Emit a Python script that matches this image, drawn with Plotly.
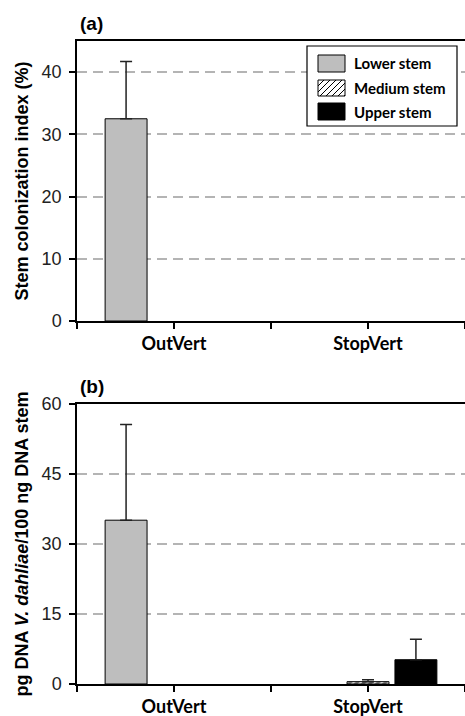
import plotly.graph_objects as go

# ---- data ----
categories = [0, 1]
category_labels = ["OutVert", "StopVert"]
series_names = ["Lower stem", "Medium stem", "Upper stem"]

# panel (a): stem colonization index (%)
a_lower = [32.5, 0]
a_medium = [0, 0]
a_upper = [0, 0]
a_lower_err = [9.2, None]
a_medium_err = [None, None]
a_upper_err = [None, None]

# panel (b): pg DNA V. dahliae / 100 ng DNA stem
b_lower = [35.1, 0]
b_medium = [0, 0.5]
b_upper = [0, 5.2]
b_lower_err = [20.5, None]
b_medium_err = [None, 0.4]
b_upper_err = [None, 4.4]

a_ticks = [0, 10, 20, 30, 40]
b_ticks = [0, 15, 30, 45, 60]

# ---- layout geometry (pixels) ----
W, H = 465, 716
L, R, T, B = 77, 0, 41, 32
PW = W - L - R
PH = H - T - B
a_top, a_bot = 41, 321
b_top, b_bot = 404, 684


def px2x(px):
    return (px - L) / PW


def px2y(py):
    return (H - B - py) / PH


GRAY = "#bebebe"
fig = go.Figure()

styles = [
    dict(color=GRAY, line=dict(color="black", width=1)),
    dict(color="white", line=dict(color="black", width=1),
         pattern=dict(shape="/", fgcolor="black", bgcolor="white", size=5, solidity=0.6)),
    dict(color="black", line=dict(color="black", width=1)),
]


def add_panel(vals, errs, xa, ya):
    for name, v, e, st in zip(series_names, vals, errs, styles):
        shown = [val if val else None for val in v]  # zero-height bars are not drawn
        fig.add_trace(go.Bar(
            x=categories, y=shown, name=name, marker=st, showlegend=False,
            xaxis=xa, yaxis=ya,
            error_y=dict(type="data", symmetric=False, array=e,
                         arrayminus=[0 if x is not None else None for x in e],
                         color="#222", thickness=1.5, width=6),
        ))


add_panel([a_lower, a_medium, a_upper], [a_lower_err, a_medium_err, a_upper_err], "x", "y")
add_panel([b_lower, b_medium, b_upper], [b_lower_err, b_medium_err, b_upper_err], "x2", "y2")

xaxis_common = dict(
    range=[-0.5, 1.5], tickvals=[-0.5, 0, 0.5, 1, 1.5],
    ticktext=["", "<b>" + category_labels[0] + "</b>", "", "<b>" + category_labels[1] + "</b>", ""],
    ticks="outside", ticklen=6, tickwidth=1.5, tickcolor="black",
    showline=True, linecolor="black", linewidth=1.5, mirror=True,
    showgrid=False, zeroline=False,
    tickfont=dict(family="Lato", size=18, color="black"),
)
yaxis_common = dict(
    ticks="outside", ticklen=6, tickwidth=1.5, tickcolor="black",
    showline=True, linecolor="black", linewidth=1.5,
    showgrid=True, gridcolor="#b4b4b4", gridwidth=1.5, griddash="10px,6px",
    zeroline=False,
    tickfont=dict(family="Liberation Sans", size=18, color="#222"),
    ticklabelstandoff=4,
    title_font=dict(family="Liberation Sans", size=18, color="black"),
    title_standoff=8,
)

fig.update_layout(
    width=W, height=H,
    margin=dict(l=L, r=R, t=T, b=B, autoexpand=False),
    paper_bgcolor="white", plot_bgcolor="white",
    barmode="group", bargap=0.259, bargroupgap=0.125,
    xaxis=dict(anchor="y", domain=[0, 1], **xaxis_common),
    yaxis=dict(anchor="x", domain=[px2y(a_bot), 1], range=[0, 45], tickvals=a_ticks,
               title_text="<b>Stem colonization index (%)</b>", **yaxis_common),
    xaxis2=dict(anchor="y2", domain=[0, 1], **xaxis_common),
    yaxis2=dict(anchor="x2", domain=[0, px2y(b_top)], range=[0, 60], tickvals=b_ticks,
                title_text="<b>pg DNA <i>V. dahliae</i>/100 ng DNA stem</b>", **yaxis_common),
    showlegend=False,
)

# panel labels
for lab, py in [("(a)", 24), ("(b)", 386)]:
    fig.add_annotation(text="<b>" + lab + "</b>", xref="paper", yref="paper",
                       x=px2x(78), y=px2y(py), xanchor="left", yanchor="middle",
                       showarrow=False, font=dict(family="Liberation Sans", size=19, color="black"))

# manual legend (panel a)
shapes = []
shapes.append(dict(type="rect", xref="paper", yref="paper",
                   x0=px2x(307), x1=px2x(457), y0=px2y(126), y1=px2y(46),
                   line=dict(color="black", width=1.2), fillcolor="white", layer="above"))
sw_x0, sw_x1 = 318, 345
rows = [(55, 72), (80, 96), (103, 120)]
fills = [GRAY, "white", "black"]
for (y0, y1), f in zip(rows, fills):
    shapes.append(dict(type="rect", xref="paper", yref="paper",
                       x0=px2x(sw_x0), x1=px2x(sw_x1), y0=px2y(y1), y1=px2y(y0),
                       line=dict(color="black", width=1), fillcolor=f, layer="above"))
# hatch lines for medium swatch
y0, y1 = rows[1]
hh = y1 - y0
step = 6
for k in range(-hh, sw_x1 - sw_x0, step):
    xa, ya = sw_x0 + k, y1
    xb, yb = sw_x0 + k + hh, y0
    if xa < sw_x0:
        ya = y1 - (sw_x0 - xa)
        xa = sw_x0
    if xb > sw_x1:
        yb = y0 + (xb - sw_x1)
        xb = sw_x1
    if xb <= xa:
        continue
    shapes.append(dict(type="line", xref="paper", yref="paper",
                       x0=px2x(xa), y0=px2y(ya), x1=px2x(xb), y1=px2y(yb),
                       line=dict(color="black", width=1), layer="above"))
fig.update_layout(shapes=shapes)

for name, (y0, y1) in zip(series_names, rows):
    fig.add_annotation(text="<b>" + name + "</b>", xref="paper", yref="paper",
                       x=px2x(352), y=px2y((y0 + y1) / 2), xanchor="left", yanchor="middle",
                       showarrow=False, font=dict(family="Lato", size=15, color="black"))

fig.write_html("out.html")
